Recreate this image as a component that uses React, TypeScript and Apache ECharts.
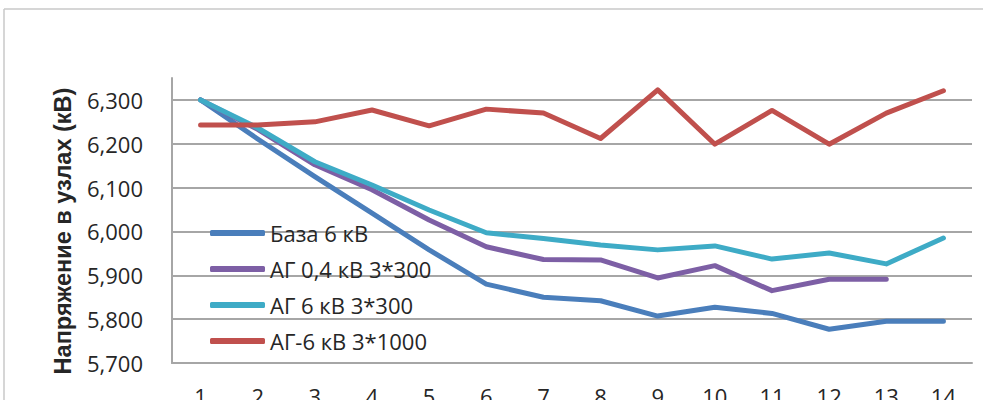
import React, { useEffect, useRef } from "react";
import * as echarts from "echarts";

// Node numbers along the feeder
const nodes = ["1", "2", "3", "4", "5", "6", "7", "8", "9", "10", "11", "12", "13", "14"];

// Node voltages, V
const baseSeries = [6300, 6211, 6125, 6042, 5958, 5880, 5850, 5842, 5807, 5827, 5813, 5777, 5795, 5795];
const ag04Series = [6300, 6233, 6152, 6095, 6026, 5965, 5936, 5935, 5894, 5922, 5865, 5891, 5891, null];
const ag6Series = [6300, 6236, 6159, 6106, 6049, 5997, 5984, 5969, 5958, 5967, 5937, 5951, 5926, 5985];
const ag6x1000Series = [6243, 6243, 6250, 6277, 6241, 6279, 6270, 6212, 6323, 6199, 6276, 6199, 6270, 6321];

const seriesNames = ["База 6 кВ", "АГ 0,4 кВ 3*300", "АГ 6 кВ 3*300", "АГ-6 кВ 3*1000"];
const seriesColors = ["#4a7ebb", "#7d5fa5", "#3eabc6", "#c0504d"];

const yTitle = "Напряжение в узлах (кВ)";

const fmt = (v: number) => {
  const s = String(Math.round(v));
  return s.length > 3 ? s.slice(0, s.length - 3) + "," + s.slice(-3) : s;
};

export default function App() {
  const ref = useRef<HTMLDivElement>(null);

  useEffect(() => {
    if (!ref.current) return;
    const chart = echarts.init(ref.current, null, { renderer: "svg" });
    const data = [baseSeries, ag04Series, ag6Series, ag6x1000Series];
    const font = "'Open Sans', 'Noto Sans', sans-serif";

    chart.setOption({
      animation: false,
      backgroundColor: "#ffffff",
      textStyle: { fontFamily: font },
      grid: {
        left: 172,
        right: 11,
        top: 78,
        bottom: 37,
        containLabel: false,
        outerBoundsMode: "none",
      },
      legend: {
        orient: "vertical",
        left: 210,
        top: 220,
        padding: 0,
        icon: "roundRect",
        itemWidth: 55,
        itemHeight: 6,
        itemGap: 10,
        textStyle: { fontSize: 22, lineHeight: 26, color: "#262626", fontFamily: font },
        data: seriesNames,
      },
      xAxis: {
        type: "category",
        data: nodes,
        boundaryGap: true,
        axisLine: { show: true, lineStyle: { color: "#a6a6a6", width: 2 } },
        axisTick: { show: false },
        axisLabel: { fontSize: 22, color: "#262626", margin: 22, fontFamily: font },
        splitLine: { show: false },
      },
      yAxis: {
        type: "value",
        min: 5700,
        max: 6350,
        interval: 50,
        axisLine: { show: true, lineStyle: { color: "#a6a6a6", width: 2 } },
        axisTick: { show: false },
        axisLabel: {
          fontSize: 22,
          color: "#262626",
          margin: 29,
          fontFamily: font,
          formatter: (v: number) => (v % 100 === 0 && v <= 6300 ? fmt(v) : ""),
        },
        // gridlines only on the 100 V steps
        splitLine: {
          show: true,
          lineStyle: { color: ["#a6a6a6", "rgba(0,0,0,0)"], width: 2 },
        },
      },
      graphic: [
        // chart-area frame (top and left edges)
        {
          type: "line",
          shape: { x1: 4, y1: 9, x2: 983, y2: 9 },
          style: { stroke: "#c8c8c8", lineWidth: 1.5 },
          silent: true,
        },
        {
          type: "line",
          shape: { x1: 4, y1: 9, x2: 4, y2: 400 },
          style: { stroke: "#c8c8c8", lineWidth: 1.5 },
          silent: true,
        },
        // vertical axis title
        {
          type: "text",
          x: 63,
          y: 231,
          rotation: Math.PI / 2,
          style: {
            text: yTitle,
            fill: "#262626",
            font: "bold 23.5px 'Liberation Sans', Arial, sans-serif",
            textAlign: "center",
            textVerticalAlign: "middle",
          },
          silent: true,
        },
      ],
      series: seriesNames.map((name, i) => ({
        name,
        type: "line",
        data: data[i],
        showSymbol: false,
        symbol: "none",
        connectNulls: false,
        color: seriesColors[i],
        lineStyle: { width: 5, color: seriesColors[i], cap: "round", join: "round" },
      })),
    });

    return () => chart.dispose();
  }, []);

  return <div ref={ref} style={{ width: 983, height: 400, position: "absolute", left: 0, top: 0 }} />;
}
